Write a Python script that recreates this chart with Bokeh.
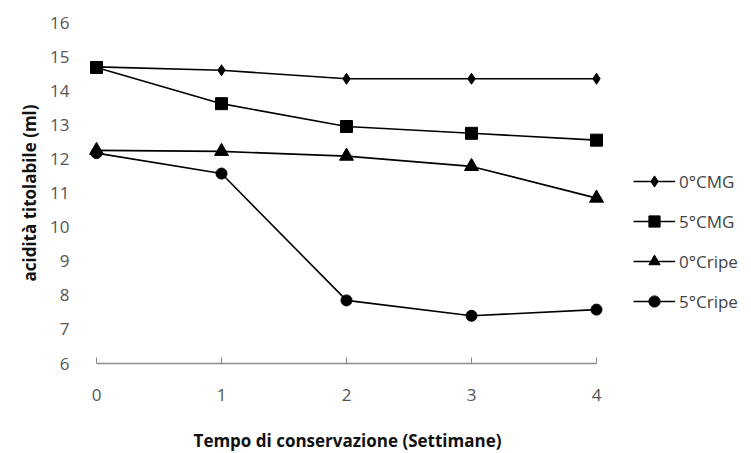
from bokeh.plotting import figure
from bokeh.models import Range1d, Legend, LegendItem, FixedTicker
from bokeh.embed import file_html
from bokeh.resources import INLINE

weeks = [0, 1, 2, 3, 4]
s0_cmg = [14.7, 14.6, 14.35, 14.35, 14.35]
s5_cmg = [14.68, 13.62, 12.95, 12.75, 12.55]
s0_ripe = [12.25, 12.22, 12.08, 11.78, 10.85]
s5_ripe = [12.17, 11.57, 7.85, 7.4, 7.58]
names = ["0°CMG", "5°CMG", "0°Cripe", "5°Cripe"]
y_ticks = [6, 7, 8, 9, 10, 11, 12, 13, 14, 15, 16]
x_ticks = [0, 1, 2, 3, 4]

FONT = "Open Sans"

p = figure(frame_width=540, frame_height=341,
           min_border_left=77, min_border_right=0,
           min_border_top=22, min_border_bottom=90,
           x_range=Range1d(-0.152, 4.168), y_range=Range1d(6, 16),
           output_backend="svg", toolbar_location=None,
           background_fill_color="white", border_fill_color="white")
p.outline_line_color = None
p.grid.visible = False

# x axis
xa = p.xaxis[0]
xa.ticker = FixedTicker(ticks=x_ticks)
xa.bounds = (0, 4)
xa.axis_line_color = "#8c8c8c"
xa.axis_line_width = 1.5
xa.major_tick_line_color = "#8c8c8c"
xa.major_tick_in = 6
xa.major_tick_out = 0
xa.minor_tick_line_color = None
xa.major_label_standoff = 25
xa.major_label_text_font = FONT
xa.major_label_text_font_size = "17px"
xa.major_label_text_color = "#555555"
xa.axis_label = "Tempo di conservazione (Settimane)"
xa.axis_label_text_font = FONT
xa.axis_label_text_font_size = "17px"
xa.axis_label_text_font_style = "bold"
xa.axis_label_text_color = "#111111"
xa.axis_label_standoff = 25

# y axis
ya = p.yaxis[0]
ya.ticker = FixedTicker(ticks=y_ticks)
ya.axis_line_color = None
ya.major_tick_line_color = None
ya.minor_tick_line_color = None
ya.major_label_standoff = 2
ya.major_label_text_font = FONT
ya.major_label_text_font_size = "17px"
ya.major_label_text_color = "#555555"
ya.axis_label = "acidità titolabile (ml)"
ya.axis_label_text_font = FONT
ya.axis_label_text_font_size = "17px"
ya.axis_label_text_font_style = "bold"
ya.axis_label_text_color = "#111111"
ya.axis_label_standoff = 6

series = [s0_cmg, s5_cmg, s0_ripe, s5_ripe]
markers = ["diamond", "square", "triangle", "circle"]
sizes = [11, 12, 14, 11]
items = []
for name, vals, mk, sz in zip(names, series, markers, sizes):
    l = p.line(weeks, vals, line_color="black", line_width=1.6)
    m = p.scatter(weeks, vals, marker=mk, size=sz, fill_color="black", line_color="black")
    items.append(LegendItem(label=name, renderers=[l, m]))

legend = Legend(items=items, location=(16, 48))
legend.border_line_color = None
legend.background_fill_alpha = 0
legend.padding = 0
legend.margin = 0
legend.glyph_width = 42
legend.glyph_height = 28
legend.label_height = 28
legend.spacing = 12
legend.label_standoff = 4
legend.label_text_font = FONT
legend.label_text_font_size = "17px"
legend.label_text_color = "#444444"
p.add_layout(legend, "right")
p.min_border_right = 134

open("out.html", "w").write(file_html(p, INLINE))
